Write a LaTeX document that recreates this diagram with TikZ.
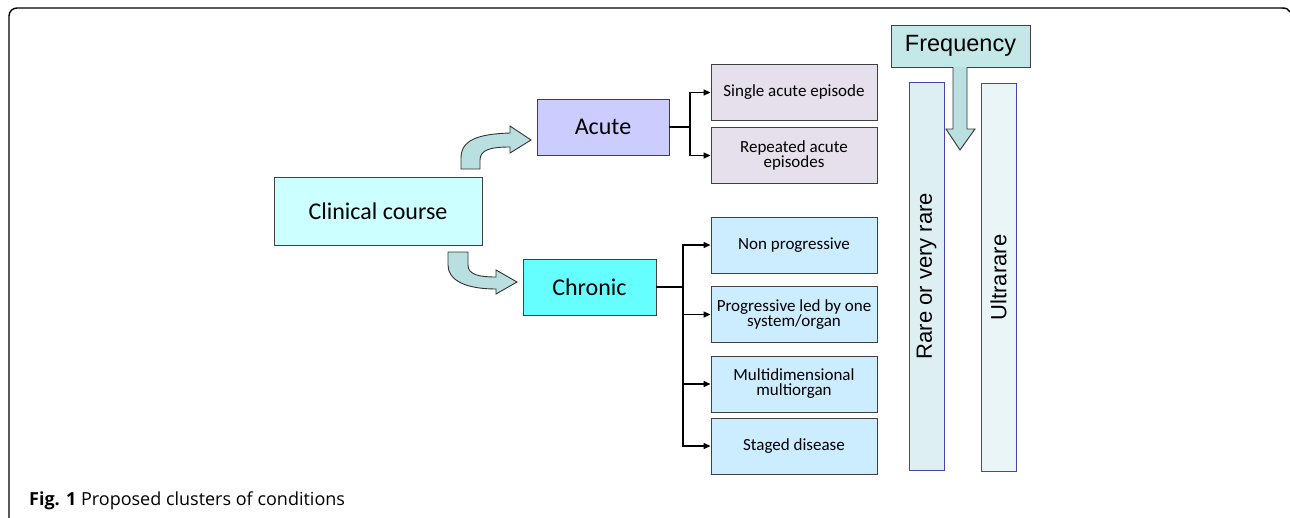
\documentclass[tikz,border=0pt]{standalone}
\usepackage{fontspec}
\setmainfont{Carlito}
\newfontfamily\arialfont{Liberation Sans}
\newfontfamily\capfont{Open Sans}
\usetikzlibrary{arrows.meta}

\definecolor{clinfill}{HTML}{CCFFFF}
\definecolor{acutefill}{HTML}{CCCCFF}
\definecolor{chronfill}{HTML}{66FFFF}
\definecolor{acchild}{HTML}{E6E0EC}
\definecolor{chchild}{HTML}{CCECFF}
\definecolor{bentfill}{HTML}{B9DFE1}
\definecolor{freqfill}{HTML}{C4E8E8}
\definecolor{rarefill}{HTML}{DDEFF3}
\definecolor{ultrafill}{HTML}{E9F5F7}
\definecolor{barline}{HTML}{4545B0}

\tikzset{
	box/.style={draw=black!75, line width=0.9pt, align=center, inner sep=2pt},
	bigbox/.style={box, font=\fontsize{24}{26}\selectfont},
	childbox/.style={box, minimum width=166, minimum height=56, font=\fontsize{17}{15}\selectfont},
	bar/.style={draw=barline, line width=0.9pt, rotate=90, minimum width=388, minimum height=35, inner sep=0pt, font=\arialfont\fontsize{22}{24}\selectfont},
	bent/.style={draw=black!80, line width=0.9pt, fill=bentfill},
	link/.style={line width=1.3pt, -{Triangle[length=7pt,width=6pt]}},
	stem/.style={line width=1.3pt}
}

\begin{document}
\begin{tikzpicture}[x=1pt, y=-1pt]
	\useasboundingbox (0,0) rectangle (1290,517);
	% frame
	\draw[line width=1.4pt, rounded corners=8] (9,520) -- (9,8) -- (1282,8);
	\draw[line width=1.4pt] (1282,8) .. controls (1286,8) and (1289,9) .. (1290,12);

	% main boxes
	\node[bigbox, fill=clinfill, minimum width=208, minimum height=68] (clinical) at (378,211) {Clinical course};
	\node[bigbox, fill=acutefill, minimum width=132, minimum height=56] (acute) at (603,127) {Acute};
	\node[bigbox, fill=chronfill, minimum width=133, minimum height=56] (chronic) at (589.5,287) {Chronic};

	% acute branches
	\node[childbox, fill=acchild] (single) at (794,92.5) {Single acute episode};
	\node[childbox, fill=acchild] (repeated) at (794,155.5) {Repeated acute\\episodes};
	% chronic branches
	\node[childbox, fill=chchild] (nonprog) at (794,245) {Non progressive};
	\node[childbox, fill=chchild] (prog) at (794,314.5) {Progressive led by one\\system/organ};
	\node[childbox, fill=chchild] (multi) at (794,384) {Multidimensional\\multiorgan};
	\node[childbox, fill=chchild] (staged) at (794,446) {Staged disease};

	% curved block arrows
	\draw[bent] (461,169) -- (461,158) .. controls (461,140) and (478,134) .. (510,133) -- (510,126) -- (531,140) -- (510,153) -- (510,147) .. controls (490,147) and (480,150) .. (480,160) -- (480,169) -- cycle;
	\draw[bent] (448,252) -- (468,252) -- (468,265) .. controls (468,275) and (480,277) .. (496,277) -- (496,270) -- (517,282) -- (496,294) -- (496,289) .. controls (465,289) and (448,280) .. (448,265) -- cycle;

	% connectors
	\coordinate (ajoin) at (690,127);
	\coordinate (cjoin) at (683,287);
	\draw[stem] (acute.east) -- (ajoin);
	\draw[link] (ajoin) |- (single.west);
	\draw[link] (ajoin) |- (repeated.west);
	\draw[stem] (chronic.east) -- (cjoin);
	\draw[link] (cjoin) |- (nonprog.west);
	\draw[link] (cjoin) |- (prog.west);
	\draw[link] (cjoin) |- (multi.west);
	\draw[link] (cjoin) |- (staged.west);

	% frequency
	\node[bar, fill=rarefill] (rare) at (926.5,276) {Rare or very rare};
	\node[bar, fill=ultrafill] (ultra) at (998.5,277.5) {Ultrarare};
	\node[box, fill=freqfill, minimum width=139, minimum height=42, font=\arialfont\fontsize{23.5}{25}\selectfont] (freq) at (960.5,46) {Frequency};
	\draw[bent] (953,67) -- (953,129) -- (946,129) -- (960,150) -- (975,129) -- (967,129) -- (967,67);

	% caption
	\node[anchor=base west, inner sep=0pt, font=\capfont\fontsize{18}{20}\selectfont] (caption) at (29,505) {\textbf{Fig. 1} Proposed clusters of conditions};
\end{tikzpicture}
\end{document}
